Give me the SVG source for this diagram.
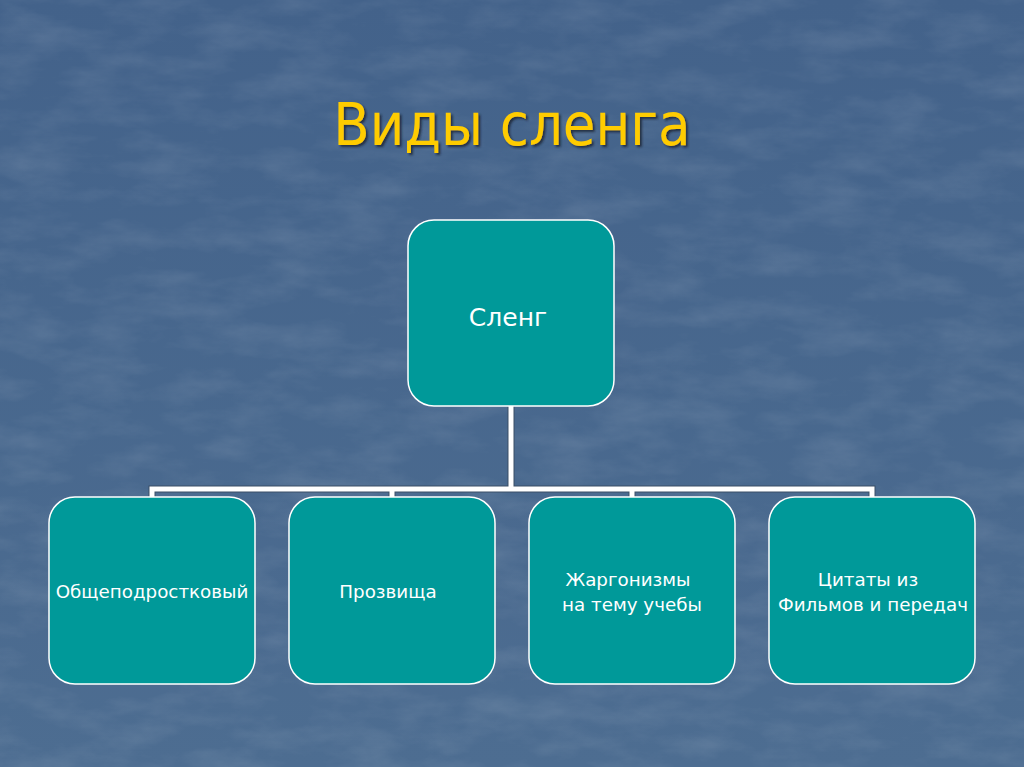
<svg xmlns="http://www.w3.org/2000/svg" width="1024" height="767" viewBox="0 0 1024 767">
<style>
.node rect{fill:#009999;stroke:#ffffff;stroke-width:1.5}
.lbl{font-family:"DejaVu Sans",sans-serif;fill:#ffffff;text-anchor:middle}
.conn{stroke:#ffffff;stroke-width:5;fill:none;stroke-linecap:square}
.connsh{stroke:#3a4f66;stroke-width:7;fill:none;stroke-linecap:square}
</style>
<defs>
<filter id="tex" x="0" y="0" width="100%" height="100%">
<feTurbulence type="fractalNoise" baseFrequency="0.015 0.04" numOctaves="5" seed="3"/>
<feColorMatrix type="matrix" values="0 0 0 0 1  0 0 0 0 1  0 0 0 0 1  0.9 0 0 0 -0.35"/>
</filter>
<filter id="sh"><feDropShadow dx="2" dy="2" stdDeviation="1" flood-color="#1a2230" flood-opacity="0.8"/></filter>
<linearGradient id="bg" x1="0" y1="0" x2="0" y2="1">
<stop offset="0" stop-color="#43628a"/>
<stop offset="1" stop-color="#4d6d91"/>
</linearGradient>
</defs>
<rect width="1024" height="767" fill="url(#bg)"/>
<rect width="1024" height="767" filter="url(#tex)" opacity="0.2"/>
<text x="512" y="145" font-family="'DejaVu Sans Condensed','DejaVu Sans',sans-serif" font-size="59" fill="#ffcc00" text-anchor="middle" filter="url(#sh)">Виды сленга</text>
<g id="connectors">
<path class="connsh" d="M511 406V489M152 497V489H872V497M392 489V497M632 489V497"/>
<path class="conn" d="M511 406V489M152 497V489H872V497M392 489V497M632 489V497"/>
</g>
<g id="node-sleng" class="node"><rect x="408" y="220" width="206" height="186" rx="26"/><text class="lbl" x="508" y="326" font-size="25">Сленг</text></g>
<g id="node-1" class="node"><rect x="49" y="497" width="206" height="187" rx="26"/><text class="lbl" x="152" y="598" font-size="18.3">Общеподростковый</text></g>
<g id="node-2" class="node"><rect x="289" y="497" width="206" height="187" rx="26"/><text class="lbl" x="388" y="598" font-size="18.3">Прозвища</text></g>
<g id="node-3" class="node"><rect x="529" y="497" width="206" height="187" rx="26"/><text class="lbl" x="628" y="586" font-size="18.3">Жаргонизмы</text><text class="lbl" x="632" y="611" font-size="18.3">на тему учебы</text></g>
<g id="node-4" class="node"><rect x="769" y="497" width="206" height="187" rx="26"/><text class="lbl" x="868" y="586" font-size="18.3">Цитаты из</text><text class="lbl" x="873" y="611" font-size="18.3">Фильмов и передач</text></g>
</svg>
